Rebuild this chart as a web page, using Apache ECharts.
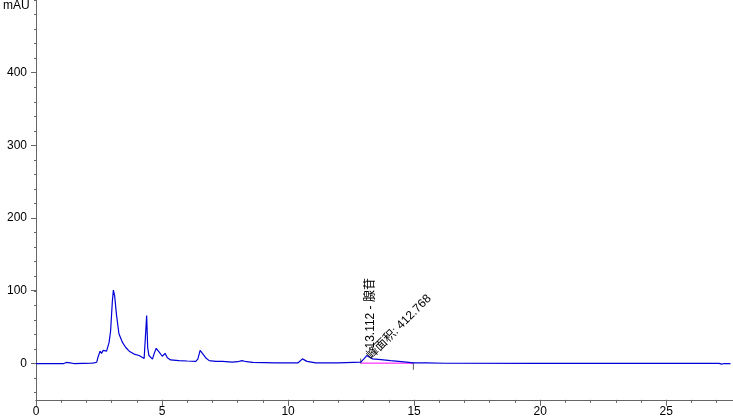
<!DOCTYPE html>
<html>
<head>
<meta charset="utf-8">
<script src="https://cdn.jsdelivr.net/npm/echarts@6/dist/echarts.min.js"></script>
<style>
  html, body { margin: 0; padding: 0; background: #fff; }
  #main { width: 733px; height: 419px; }
</style>
</head>
<body>
<div id="main"></div>
<script>
// 色谱图数据 (min, mAU)
var times = [0, 1.1, 1.2, 1.26, 1.35, 1.5, 2.2, 2.3, 2.41, 2.46, 2.5, 2.54, 2.6, 2.66, 2.72, 2.8, 2.9, 2.96, 3.03, 3.07, 3.12, 3.19, 3.29, 3.43, 3.56, 3.7, 3.89, 4.09, 4.29, 4.35, 4.39, 4.43, 4.48, 4.62, 4.7, 4.77, 4.88, 5.01, 5.12, 5.21, 5.34, 5.67, 6.0, 6.34, 6.42, 6.51, 6.6, 6.73, 6.87, 7.13, 7.4, 7.79, 8.0, 8.17, 8.35, 8.6, 9.5, 10.4, 10.57, 10.75, 11.1, 12.0, 12.88, 13.0, 13.12, 13.35, 13.68, 14.07, 14.6, 14.97, 15.5, 16.2, 20, 25, 27.1, 27.2, 27.3, 27.55];
var absorb = [0, 0, 1.5, 2.5, 0.8, 0, 0.5, 1, 1.8, 8.7, 11, 17, 14, 18, 15.5, 17, 29, 45, 86, 101, 93, 68, 41, 29, 22, 17, 13, 11, 7, 9, 66, 22, 11, 6, 15, 21, 16, 10, 14, 8, 5, 4, 3.5, 3, 6, 18, 14, 8, 4, 3, 3, 2, 2.5, 4, 2.5, 1.5, 1, 1, 6.4, 3, 1, 0.8, 1.8, 6, 11, 6.4, 5.5, 4, 2.3, 1, 0.8, 0.4, 0.3, 0.3, 0.3, -0.8, 0, 0];

// 积分基线
var baseTimes = [12.88, 14.97];
var baseVals = [0.6, 0.5];

// 峰信息
var peakTime = 13.112;
var peakName = '腺苷';
var peakArea = 412.768;

var xLabels = [0, 5, 10, 15, 20, 25];
var yLabels = [0, 100, 200, 300, 400];

var chart = echarts.init(document.getElementById('main'), null, { renderer: 'canvas' });

var trace = times.map(function (t, i) { return [t, absorb[i]]; });
var base = baseTimes.map(function (t, i) { return [t, baseVals[i]]; });

var axisColor = '#666';
var font = 'Liberation Sans, Arial, sans-serif';
var cjkFont = 'Liberation Sans, Noto Sans CJK SC, sans-serif';

// 0 mAU 在 y=363.3 处, 每 mAU 0.7317 px
var zeroY = 363.3, pxPerUnit = 0.7317, gridTop = zeroY - 500 * pxPerUnit;
function bottomFor(v) { return 419 - (zeroY - v * pxPerUnit); }

var hiddenX = {
  type: 'value', min: 0, max: 27.65, show: false
};

var option = {
  animation: false,
  grid: [
    { left: 36, right: 0, top: gridTop, bottom: bottomFor(-50) },   // 主图
    { left: 36, right: 0, top: gridTop, bottom: bottomFor(-40) },   // 小刻度
    { left: 36, right: 0, top: gridTop, bottom: bottomFor(0) }      // 大刻度与标签
  ],
  graphic: [{
    type: 'text', left: 3, top: 0,
    style: { text: 'mAU', font: '12px Liberation Sans, Arial, sans-serif', fill: '#000' }
  }],
  xAxis: [{
    type: 'value', min: 0, max: 27.65, interval: 1, gridIndex: 0,
    axisLine: { onZero: false, lineStyle: { color: axisColor } },
    axisTick: { length: 3, lineStyle: { color: axisColor } },
    axisLabel: { show: false },
    splitLine: { show: false }
  }, {
    type: 'value', min: 0, max: 27.65, interval: 5, gridIndex: 0, position: 'bottom',
    axisLine: { onZero: false, lineStyle: { color: axisColor } },
    axisTick: { length: 6, lineStyle: { color: axisColor } },
    axisLabel: {
      margin: 6, color: '#000', fontSize: 12, fontFamily: font, showMaxLabel: false,
      formatter: function (v) { return xLabels.indexOf(v) >= 0 ? String(v) : ''; }
    },
    splitLine: { show: false }
  },
  Object.assign({ gridIndex: 1 }, hiddenX),
  Object.assign({ gridIndex: 2 }, hiddenX)],
  yAxis: [{
    type: 'value', min: -50, max: 500, gridIndex: 0,
    axisLine: { onZero: false, lineStyle: { color: axisColor } },
    axisTick: { show: false },
    axisLabel: { show: false },
    splitLine: { show: false }
  }, {
    type: 'value', min: -40, max: 500, interval: 20, gridIndex: 1,
    axisLine: { show: false },
    axisTick: { length: 2, lineStyle: { color: axisColor } },
    axisLabel: { show: false },
    splitLine: { show: false }
  }, {
    type: 'value', min: 0, max: 500, interval: 100, gridIndex: 2,
    axisLine: { show: false },
    axisTick: { length: 5, lineStyle: { color: axisColor } },
    axisLabel: {
      margin: 9, color: '#000', fontSize: 12, fontFamily: font, showMaxLabel: false,
      formatter: function (v) { return yLabels.indexOf(v) >= 0 ? String(v) : ''; }
    },
    splitLine: { show: false }
  }],
  series: [{
    type: 'line', data: trace, xAxisIndex: 0, yAxisIndex: 0,
    showSymbol: false, lineStyle: { color: '#0000d8', width: 1.2 },
    markPoint: {
      symbol: 'circle', symbolSize: 0, silent: true,
      data: [{
        coord: [peakTime, 0],
        label: {
          show: true, position: [0, 0], offset: [15, 4], rotate: 90,
          align: 'left', verticalAlign: 'middle',
          formatter: peakTime.toFixed(3) + ' - ' + peakName,
          color: '#000', fontSize: 12, fontFamily: cjkFont
        }
      }, {
        coord: [peakTime, 0],
        label: {
          show: true, position: [0, 0], offset: [5.7, -2.8], rotate: 45,
          align: 'left', verticalAlign: 'middle',
          formatter: '峰面积: ' + peakArea.toFixed(3),
          color: '#000', fontSize: 12, fontFamily: cjkFont
        }
      }]
    }
  }, {
    type: 'line', data: base, xAxisIndex: 0, yAxisIndex: 0,
    showSymbol: false, lineStyle: { color: '#ff00ff', width: 1 }, z: 1
  }, {
    type: 'scatter', xAxisIndex: 0, yAxisIndex: 0,
    symbol: 'rect', itemStyle: { color: '#333' },
    data: [
      { value: base[0], symbolSize: [1, 5], symbolOffset: [0, -2] },
      { value: base[1], symbolSize: [1, 7], symbolOffset: [0, 3] }
    ]
  }]
};

chart.setOption(option);
</script>
</body>
</html>
